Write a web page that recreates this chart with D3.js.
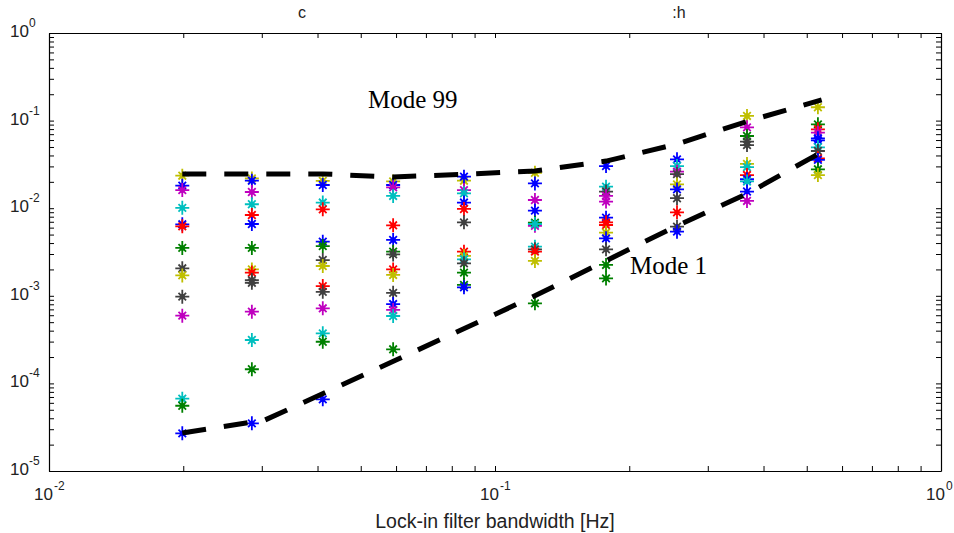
<!DOCTYPE html>
<html>
<head>
<meta charset="utf-8">
<script src="https://cdn.jsdelivr.net/npm/d3@7"></script>
<style>
  body { margin: 0; background: #fff; }
</style>
</head>
<body>
<div id="chart"></div>
<script>
// lock-in bandwidths of the measurement columns [Hz]
const bandwidths = [0.0199, 0.0285, 0.0411, 0.0591, 0.0852, 0.1229, 0.1774, 0.2559, 0.3673, 0.5297]

// points per column: [series colour key, value]
const col1 = [["y", 0.0235], ["b", 0.0181], ["m", 0.0161], ["c", 0.0101], ["b", 0.00655], ["r", 0.00621], ["g", 0.00352],
              ["k", 0.00206], ["y", 0.00171], ["k", 0.000977], ["m", 0.000593], ["c", 6.69e-5], ["g", 5.56e-5], ["b", 2.69e-5]]
const col2 = [["y", 0.0219], ["b", 0.0206], ["m", 0.0153], ["c", 0.0111], ["r", 0.00836], ["b", 0.0066], ["g", 0.00352],
              ["y", 0.0020], ["r", 0.00184], ["k", 0.00151], ["k", 0.00141], ["m", 0.000659], ["c", 0.000313], ["g", 0.000145], ["b", 3.5e-5]]
const col3 = [["y", 0.0205], ["b", 0.0184], ["c", 0.0116], ["r", 0.0097], ["b", 0.00415], ["g", 0.0037], ["k", 0.00256],
              ["y", 0.00219], ["r", 0.00129], ["k", 0.00111], ["m", 0.00072], ["c", 0.000373], ["g", 0.000299], ["b", 6.58e-5]]
const col4 = [["y", 0.0202], ["b", 0.0184], ["m", 0.0173], ["c", 0.0138], ["r", 0.00638], ["b", 0.00434], ["g", 0.00319],
              ["k", 0.00297], ["r", 0.0020], ["y", 0.00173], ["k", 0.00108], ["b", 0.000805], ["m", 0.000689], ["c", 0.000588], ["g", 0.000245]]
const col5 = [["y", 0.0206], ["b", 0.0229], ["m", 0.0161], ["c", 0.0148], ["b", 0.0116], ["r", 0.0098], ["k", 0.0069],
              ["r", 0.00319], ["y", 0.00285], ["c", 0.00261], ["k", 0.00235], ["g", 0.00184], ["g", 0.00133], ["b", 0.00125]]
const col6 = [["y", 0.0254], ["b", 0.0192], ["m", 0.0124], ["b", 0.00937], ["m", 0.0063], ["g", 0.00684], ["c", 0.0066],
              ["c", 0.00364], ["k", 0.00339], ["r", 0.00319], ["y", 0.0025], ["g", 0.00082]]
const col7 = [["b", 0.0303], ["c", 0.0176], ["k", 0.0155], ["m", 0.0138], ["m", 0.0119], ["b", 0.0078], ["r", 0.0069],
              ["r", 0.00643], ["y", 0.00526], ["b", 0.00453], ["k", 0.00339], ["g", 0.00225], ["g", 0.00158]]
const col8 = [["b", 0.0361], ["c", 0.0303], ["m", 0.0261], ["k", 0.0245], ["y", 0.0187], ["b", 0.0164], ["k", 0.013],
              ["r", 0.00897], ["k", 0.00615], ["b", 0.0054]]
const col9 = [["y", 0.113], ["m", 0.0838], ["g", 0.0667], ["k", 0.0574], ["k", 0.0526], ["y", 0.032], ["c", 0.0294],
              ["r", 0.0239], ["b", 0.0214], ["c", 0.0202], ["b", 0.0155], ["m", 0.0121]]
const col10 = [["y", 0.142], ["g", 0.0907], ["r", 0.0796], ["m", 0.0728], ["b", 0.0628], ["b", 0.0594], ["c", 0.0496],
               ["k", 0.045], ["r", 0.0371], ["b", 0.0356], ["g", 0.0278], ["y", 0.0239]]
const columns = [col1, col2, col3, col4, col5, col6, col7, col8, col9, col10]

// dashed envelopes
const mode99Bw  = [0.0199, 0.0411, 0.0591, 0.0852, 0.1229, 0.1774, 0.2559, 0.37, 0.54]
const mode99Val = [0.0246, 0.0246, 0.0227, 0.0244, 0.0266, 0.0345, 0.054, 0.099, 0.172]
const mode1Bw   = [0.0199, 0.0305, 0.06, 0.12, 0.25, 0.37, 0.54]
const mode1Val  = [2.72e-5, 3.82e-5, 0.000185, 0.000944, 0.00594, 0.0149, 0.0438]

// tick labels (exponents of ten)
const xExponents = [-2, -1, 0]
const yExponents = [-5, -4, -3, -2, -1, 0]

// matlab's old default colour order
const colorOrder = {b: "#0000ff", g: "#008000", r: "#ff0000", c: "#00bfbf", m: "#bf00bf", y: "#bfbf00", k: "#404040"}

const width = 954, height = 533
const margin = ({top: 33, right: 13, bottom: 62, left: 49})

const svg = d3.select("#chart").append("svg")
    .attr("width", width)
    .attr("height", height)
    .style("font-family", "'Liberation Sans', Arial, sans-serif")

const x = d3.scaleLog().domain([1e-2, 1]).range([margin.left, width - margin.right])
const y = d3.scaleLog().domain([1e-5, 1]).range([height - margin.bottom, margin.top])

// flatten the columns into points
const points = columns.flatMap((col, i) => col.map(([key, value]) => ({bw: bandwidths[i], key, value})))

// asterisk marker: long plus, short diagonals
const star = "M-7,0L7,0M0,-7L0,7M-3.8,-3.8L3.8,3.8M-3.8,3.8L3.8,-3.8"

const markers = svg.append("g")
    .selectAll("g")
    .data(points)
    .join("g")
    .attr("transform", d => `translate(${x(d.bw)},${y(d.value)})`)

markers.append("path")
    .attr("d", star)
    .attr("fill", "none")
    .attr("stroke", d => colorOrder[d.key])
    .attr("stroke-width", 1.8)
markers.append("circle")
    .attr("r", 2.6)
    .attr("fill", d => colorOrder[d.key])

// dashed lines on top
const line = d3.line().x(d => x(d[0])).y(d => y(d[1]))

svg.append("path")
    .attr("d", line(d3.zip(mode99Bw, mode99Val)))
    .attr("fill", "none")
    .attr("stroke", "black")
    .attr("stroke-width", 5)
    .attr("stroke-dasharray", "24 18")

svg.append("path")
    .attr("d", line(d3.zip(mode1Bw, mode1Val)))
    .attr("fill", "none")
    .attr("stroke", "black")
    .attr("stroke-width", 5)
    .attr("stroke-dasharray", "24 18")

// axes box with inward ticks on all four sides
const tick = 5
const axes = [
    [d3.axisBottom(x), `translate(0,${y.range()[0]})`],
    [d3.axisTop(x), `translate(0,${y.range()[1]})`],
    [d3.axisLeft(y), `translate(${x.range()[0]},0)`],
    [d3.axisRight(y), `translate(${x.range()[1]},0)`]
]
axes.forEach(([axis, tr]) => {
    svg.append("g")
        .attr("transform", tr)
        .call(axis.ticks(10).tickSizeInner(-tick).tickSizeOuter(0).tickFormat(""))
        .call(g => g.select(".domain").attr("stroke-width", 1.2))
        .call(g => g.selectAll(".tick line").attr("stroke-width", 1))
})

// tick labels: "10" plus a separate superscript
const expText = d => d < 0 ? "-" + (-d) : String(d)

const xLabels = svg.append("g")
    .selectAll("g")
    .data(xExponents)
    .join("g")
    .attr("transform", d => `translate(${x(Math.pow(10, d)) + 4},${height - margin.bottom + 29})`)
xLabels.append("text")
    .attr("text-anchor", "end")
    .attr("font-size", 17)
    .attr("fill", "#222")
    .text("10")
xLabels.append("text")
    .attr("x", 1)
    .attr("y", -10)
    .attr("font-size", 12)
    .attr("fill", "#222")
    .text(expText)

const yLabels = svg.append("g")
    .selectAll("g")
    .data(yExponents)
    .join("g")
    .attr("transform", d => `translate(29,${y(Math.pow(10, d))})`)
yLabels.append("text")
    .attr("y", 4)
    .attr("text-anchor", "end")
    .attr("font-size", 17)
    .attr("fill", "#222")
    .text("10")
yLabels.append("text")
    .attr("y", -6)
    .attr("font-size", 12)
    .attr("fill", "#222")
    .text(expText)

// x label
svg.append("text")
    .attr("x", x(0.1))
    .attr("y", 528)
    .attr("text-anchor", "middle")
    .attr("font-size", 19.5)
    .attr("fill", "#222")
    .text("Lock-in filter bandwidth [Hz]")

// clipped title fragments at the top
svg.append("text").attr("x", 302).attr("y", 18).attr("text-anchor", "middle")
    .attr("font-size", 16).attr("fill", "#222").text("c")
svg.append("text").attr("x", 679).attr("y", 18).attr("text-anchor", "middle")
    .attr("font-size", 16).attr("fill", "#222").text(":h")

// mode annotations
svg.append("text").attr("x", 368).attr("y", 108)
    .style("font-family", "'Liberation Serif', 'Times New Roman', serif")
    .attr("font-size", 25).text("Mode 99")
svg.append("text").attr("x", 630).attr("y", 274)
    .style("font-family", "'Liberation Serif', 'Times New Roman', serif")
    .attr("font-size", 25).text("Mode 1")
</script>
</body>
</html>
